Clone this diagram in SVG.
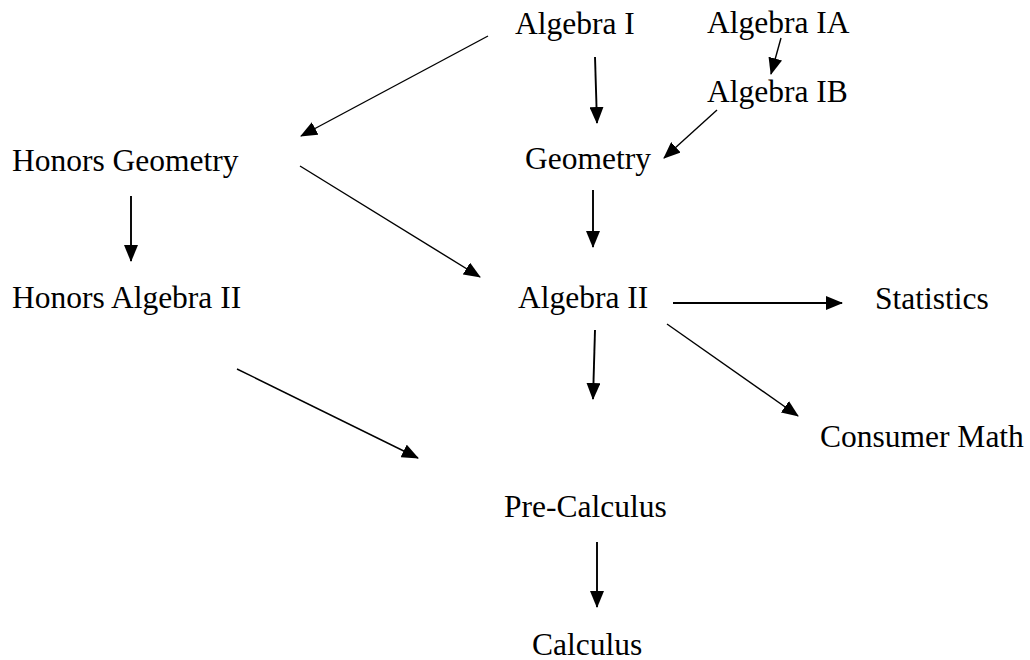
<svg xmlns="http://www.w3.org/2000/svg" width="1030" height="660" viewBox="0 0 1030 660">
<defs>
<style>
text{font-family:"Liberation Serif","Times New Roman",serif;font-size:31.5px;fill:#000}
.c line{stroke:#000;stroke-width:1.4;fill:none;marker-end:url(#ah)}
.c line.v{stroke-width:1.9}
</style>
<marker id="ah" markerUnits="userSpaceOnUse" markerWidth="17" markerHeight="14" refX="16" refY="7" orient="auto">
<path d="M0,0 L17,7 L0,14 z" fill="#000"/>
</marker>
</defs>
<rect width="1030" height="660" fill="#fff"/>
<g id="n-alg1"><text x="515" y="34">Algebra I</text></g>
<g id="n-alg1a"><text x="707" y="33">Algebra IA</text></g>
<g id="n-alg1b"><text x="707" y="102">Algebra IB</text></g>
<g id="n-hgeo"><text x="12" y="171">Honors Geometry</text></g>
<g id="n-geo"><text x="525" y="169">Geometry</text></g>
<g id="n-halg2"><text x="12" y="308">Honors Algebra II</text></g>
<g id="n-alg2"><text x="518" y="308">Algebra II</text></g>
<g id="n-stat"><text x="875" y="309">Statistics</text></g>
<g id="n-cons"><text x="820" y="447">Consumer Math</text></g>
<g id="n-precalc"><text x="504" y="517">Pre-Calculus</text></g>
<g id="n-calc"><text x="532" y="655">Calculus</text></g>
<g id="connectors" class="c">
<line x1="488" y1="36" x2="301" y2="136"/>
<line class="v" x1="595" y1="57" x2="597" y2="123"/>
<line x1="781" y1="38" x2="771" y2="74"/>
<line x1="717" y1="110" x2="664" y2="158"/>
<line class="v" x1="131" y1="196" x2="131" y2="261"/>
<line x1="300" y1="166" x2="480" y2="277"/>
<line class="v" x1="593" y1="190" x2="593" y2="247"/>
<line class="v" x1="673" y1="303" x2="842" y2="303"/>
<line x1="667" y1="324" x2="798" y2="416"/>
<line class="v" x1="595" y1="330" x2="593" y2="399"/>
<line x1="237" y1="369" x2="418" y2="458"/>
<line class="v" x1="597" y1="542" x2="597" y2="607"/>
</g>
</svg>
